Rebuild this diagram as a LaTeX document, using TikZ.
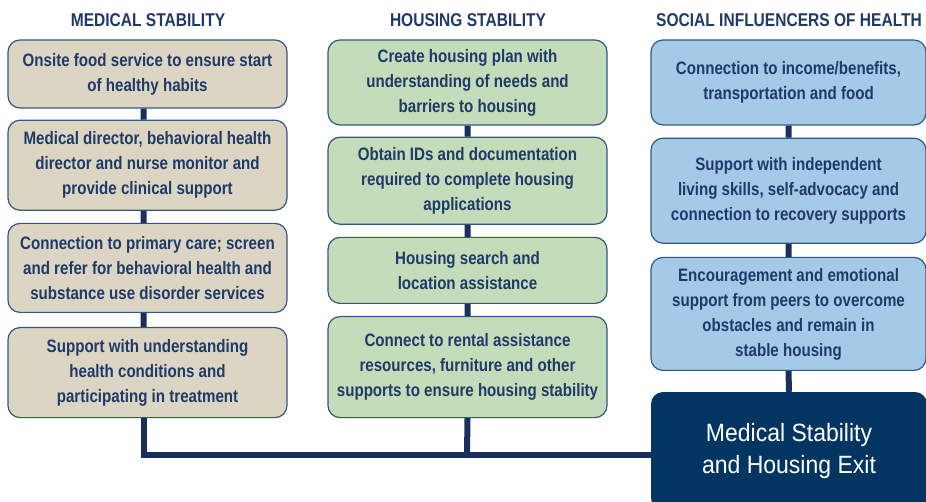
\documentclass[tikz,border=0pt]{standalone}
\usepackage{fontspec}
\setmainfont{Liberation Sans}[FakeStretch=0.84]
\newfontfamily\exitfont{Liberation Sans}[FakeStretch=0.92]
\usetikzlibrary{positioning}
\definecolor{navytext}{RGB}{31,58,104}
\definecolor{navyline}{RGB}{23,48,92}
\definecolor{navyexit}{RGB}{3,53,99}
\definecolor{boxedge}{RGB}{52,86,130}
\definecolor{medfill}{RGB}{221,213,195}
\definecolor{housefill}{RGB}{197,220,186}
\definecolor{socialfill}{RGB}{164,202,232}
\tikzset{
x=1pt, y=-1pt, % one unit is one pixel of the reference
every box/.style={draw=boxedge, line width=1.2pt, rounded corners=12pt, align=center, text=navytext, font=\bfseries\fontsize{18}{25}\selectfont, inner sep=2pt}, % common look of the step boxes
medbox/.style={every box, fill=medfill, minimum width=279pt}, % medical stability column
housebox/.style={every box, fill=housefill, minimum width=279pt}, % housing stability column
socialbox/.style={every box, fill=socialfill, minimum width=275pt}, % social influencers column
exitbox/.style={rounded corners=12pt, fill=navyexit, text=white, align=center, font=\exitfont\fontsize{25}{32}\selectfont, minimum width=276pt, minimum height=118pt}, % final box
colhead/.style={text=navytext, font=\bfseries\fontsize{18.5}{22}\selectfont}, % column titles
link/.style={draw=navyline, line width=6pt}, % connectors
}

\begin{document}
\begin{tikzpicture}
      \useasboundingbox (0,0) rectangle (926,502);

      \node[colhead] (medhead) at (148,20) {MEDICAL STABILITY};
      \node[colhead] (househead) at (468,20) {HOUSING STABILITY};
      \node[colhead] (socialhead) at (789,20) {SOCIAL INFLUENCERS OF HEALTH};

      \node[medbox, minimum height=68pt] (med1) at (147.5,74) {Onsite food service to ensure start\\of healthy habits};
      \node[medbox, minimum height=90pt, below=11pt of med1] (med2) {Medical director, behavioral health\\director and nurse monitor and\\provide clinical support};
      \node[medbox, minimum height=89pt, below=12pt of med2] (med3) {Connection to primary care; screen\\and refer for behavioral health and\\substance use disorder services};
      \node[medbox, minimum height=90pt, below=14pt of med3] (med4) {Support with understanding\\health conditions and\\participating in treatment};

      \node[housebox, minimum height=85pt] (house1) at (467.5,82.5) {Create housing plan with\\understanding of needs and\\barriers to housing};
      \node[housebox, minimum height=87pt, below=11pt of house1] (house2) {Obtain IDs and documentation\\required to complete housing\\applications};
      \node[housebox, minimum height=66pt, below=12pt of house2] (house3) {Housing search and\\location assistance};
      \node[housebox, minimum height=101pt, below=12pt of house3] (house4) {Connect to rental assistance\\resources, furniture and other\\supports to ensure housing stability};

      \node[socialbox, minimum height=85pt] (social1) at (788.5,82.5) {Connection to income/benefits,\\transportation and food};
      \node[socialbox, minimum height=105pt, below=12pt of social1] (social2) {Support with independent\\living skills, self-advocacy and\\connection to recovery supports};
      \node[socialbox, minimum height=113pt, below=13pt of social2] (social3) {Encouragement and emotional\\support from peers to overcome\\obstacles and remain in\\stable housing};

      \node[exitbox] (exit) at (789,451) {Medical Stability\\and Housing Exit};

      \coordinate (bus) at (467,455);

      \path[link] ([xshift=-4pt]med1.south) -- ([xshift=-4pt]med2.north)
      ([xshift=-4pt]med2.south) -- ([xshift=-4pt]med3.north)
      ([xshift=-4pt]med3.south) -- ([xshift=-4pt]med4.north)
      (house1.south) -- (house2.north)
      (house2.south) -- (house3.north)
      (house3.south) -- (house4.north)
      (house4.south) -- (bus)
      (social1.south) -- (social2.north)
      (social2.south) -- (social3.north)
      (social3.south) -- (exit.north);
      \path[link, line join=miter] ([xshift=-4pt]med4.south) |- (bus) -- (bus -| exit.west);
    \end{tikzpicture}
\end{document}
